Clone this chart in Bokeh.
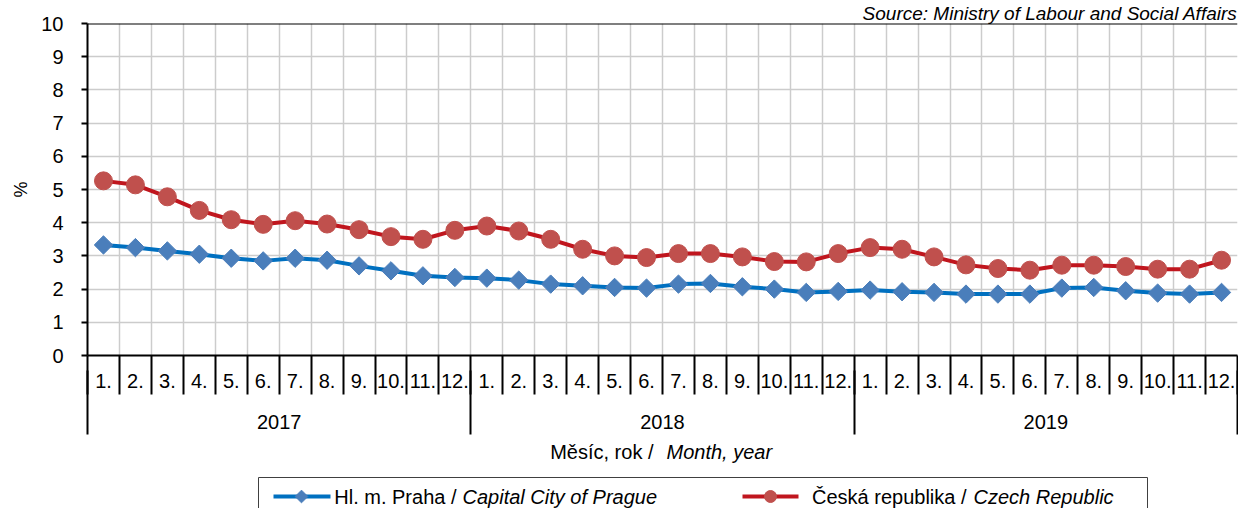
import numpy as np
from bokeh.plotting import figure
from bokeh.models import FixedTicker, LinearAxis, Span, Range1d
from bokeh.layouts import column
from bokeh.embed import file_html
from bokeh.resources import INLINE
from bokeh.core.properties import value

# ---------------- data ----------------
years = ["2017", "2018", "2019"]
months = ["1.", "2.", "3.", "4.", "5.", "6.", "7.", "8.", "9.", "10.", "11.", "12."]
praha = [3.33, 3.25, 3.15, 3.05, 2.93, 2.85, 2.93, 2.87, 2.70, 2.55, 2.40, 2.35,
         2.33, 2.27, 2.15, 2.10, 2.05, 2.03, 2.15, 2.17, 2.07, 2.00, 1.90, 1.93,
         1.97, 1.92, 1.90, 1.85, 1.85, 1.85, 2.03, 2.05, 1.95, 1.88, 1.85, 1.90]
cr = [5.26, 5.14, 4.78, 4.37, 4.09, 3.95, 4.06, 3.96, 3.79, 3.58, 3.50, 3.77,
      3.90, 3.75, 3.50, 3.20, 3.00, 2.95, 3.07, 3.07, 2.97, 2.83, 2.82, 3.07,
      3.25, 3.20, 2.97, 2.73, 2.62, 2.57, 2.72, 2.72, 2.68, 2.60, 2.60, 2.87]
series_cz = ["Hl. m. Praha /", "Česká republika /"]
series_en = ["Capital City of Prague", "Czech Republic"]
y_ticks = list(range(0, 11))
x_title_cz = "Měsíc, rok /"
x_title_en = "Month, year"
source_text = "Source: Ministry of Labour and Social Affairs"
y_title = "%"

FONT = "Liberation Sans"
BLUE_LINE, BLUE_MARK = "#0070c0", "#4a7ebb"
RED_LINE, RED_MARK = "#c0161e", "#c0504d"
GRID = "#cccccc"

n = len(cr)
nm = len(months)
x = np.arange(n) + 0.5
bounds = list(range(0, n + 1))
centers = [i + 0.5 for i in range(n)]
year_centers = [nm * k + nm / 2 for k in range(len(years))]
year_bounds = [nm * k for k in range(len(years) + 1)]

W = 1238
H1 = 435
H2 = 508 - H1
LEFT, RIGHT = 87, 1

p = figure(width=W, height=H1, x_range=Range1d(0, n), y_range=Range1d(0, 10),
           output_backend="svg", toolbar_location=None,
           min_border_left=LEFT, min_border_right=RIGHT, min_border_top=21,
           min_border_bottom=80)
p.outline_line_color = None
p.background_fill_color = "white"
p.border_fill_color = "white"

# title (source)
p.title.text = source_text
p.title.align = "right"
p.title.text_font = FONT
p.title.text_font_size = "19px"
p.title.text_font_style = "italic"
p.title.text_color = "black"
p.title.standoff = 0

# grids
p.xgrid.ticker = FixedTicker(ticks=bounds[1:-1])
p.ygrid.ticker = FixedTicker(ticks=y_ticks[1:-1])
for g in (p.xgrid, p.ygrid):
    g.grid_line_color = GRID
    g.grid_line_width = 1.5

# y axis
ya = p.yaxis[0]
ya.ticker = FixedTicker(ticks=y_ticks)
ya.major_tick_out = 6
ya.major_tick_in = 0
ya.minor_tick_out = 0
ya.minor_tick_in = 0
ya.axis_line_width = 2
ya.axis_line_color = "black"
ya.major_tick_line_width = 2
ya.major_tick_line_color = "black"
ya.major_label_text_font = FONT
ya.major_label_text_font_size = "20px"
ya.major_label_text_color = "black"
ya.major_label_standoff = 18
ya.axis_label = y_title
ya.axis_label_text_font = FONT
ya.axis_label_text_font_size = "18px"
ya.axis_label_text_font_style = "normal"
ya.axis_label_text_color = "black"
ya.axis_label_standoff = 7

# x axis: months (separators drawn as minor ticks)
xa = p.xaxis[0]
xa.ticker = FixedTicker(ticks=centers, minor_ticks=bounds)
xa.major_label_overrides = {c: months[i % nm] for i, c in enumerate(centers)}
xa.major_tick_out = 0
xa.major_tick_in = 0
xa.minor_tick_out = 39
xa.minor_tick_in = 0
xa.minor_tick_line_color = "black"
xa.minor_tick_line_width = 2
xa.axis_line_color = "black"
xa.axis_line_width = 2
xa.major_label_text_font = FONT
xa.major_label_text_font_size = "20px"
xa.major_label_text_color = "black"
xa.major_label_standoff = -21

# x axis: years
xb = LinearAxis(ticker=FixedTicker(ticks=year_centers, minor_ticks=year_bounds))
xb.major_label_overrides = {c: years[i] for i, c in enumerate(year_centers)}
xb.major_tick_out = 0
xb.major_tick_in = 0
xb.minor_tick_in = 20
xb.minor_tick_out = 44
xb.minor_tick_line_color = "black"
xb.minor_tick_line_width = 2
xb.axis_line_color = None
xb.major_label_text_font = FONT
xb.major_label_text_font_size = "20px"
xb.major_label_text_color = "black"
xb.major_label_standoff = -20
p.add_layout(xb, "below")

# top border
p.add_layout(Span(location=10, dimension="width", line_color="black", line_width=2))

# series
p.line(x, praha, line_color=BLUE_LINE, line_width=4)
p.scatter(x, praha, marker="square", angle=np.pi / 4, size=13,
          fill_color=BLUE_MARK, line_color=BLUE_MARK)
p.line(x, cr, line_color=RED_LINE, line_width=4)
p.scatter(x, cr, marker="circle", size=18, fill_color=RED_MARK, line_color=RED_MARK)

# ---------------- bottom: axis title + legend (page pixel coordinates) ----------------
p2 = figure(width=W, height=H2, x_range=Range1d(LEFT, W - RIGHT), y_range=Range1d(0, H2),
            x_axis_type=None, y_axis_type=None, output_backend="svg",
            toolbar_location=None, min_border_left=LEFT, min_border_right=RIGHT,
            min_border_top=0, min_border_bottom=0)
p2.outline_line_color = None
p2.grid.visible = False
p2.border_fill_color = "white"


def Y(page_y):
    return 508 - page_y


# axis title (mixed styles)
ty = Y(451)
p2.text(x=[653], y=[ty], text=[x_title_cz], text_font=value(FONT),
        text_font_size="20px", text_align="right", text_baseline="middle",
        text_color="black")
p2.text(x=[666], y=[ty], text=[x_title_en], text_font=value(FONT),
        text_font_size="20px", text_align="left", text_baseline="middle",
        text_color="black", text_font_style="italic")

# legend box
p2.quad(left=[258], right=[1147], top=[Y(477)], bottom=[Y(520)],
        fill_color="white", line_color="#404040", line_width=1)
ly = Y(496)
# blue entry
p2.line([273, 330], [ly, ly], line_color=BLUE_LINE, line_width=4)
p2.scatter([301], [ly], marker="square", angle=np.pi / 4, size=9,
           fill_color=BLUE_MARK, line_color=BLUE_MARK)
p2.text(x=[456], y=[ly], text=[series_cz[0]], text_font=value(FONT),
        text_font_size="20px", text_align="right", text_baseline="middle", text_color="black")
p2.text(x=[462], y=[ly], text=[series_en[0]], text_font=value(FONT),
        text_font_size="20px", text_align="left", text_baseline="middle",
        text_color="black", text_font_style="italic")
# red entry
p2.line([742, 798], [ly, ly], line_color=RED_LINE, line_width=4)
p2.scatter([770], [ly], marker="circle", size=12, fill_color=RED_MARK, line_color=RED_MARK)
p2.text(x=[966], y=[ly], text=[series_cz[1]], text_font=value(FONT),
        text_font_size="20px", text_align="right", text_baseline="middle", text_color="black")
p2.text(x=[973], y=[ly], text=[series_en[1]], text_font=value(FONT),
        text_font_size="20px", text_align="left", text_baseline="middle",
        text_color="black", text_font_style="italic")

layout = column(p, p2, spacing=0)
open("out.html", "w").write(file_html(layout, INLINE))
